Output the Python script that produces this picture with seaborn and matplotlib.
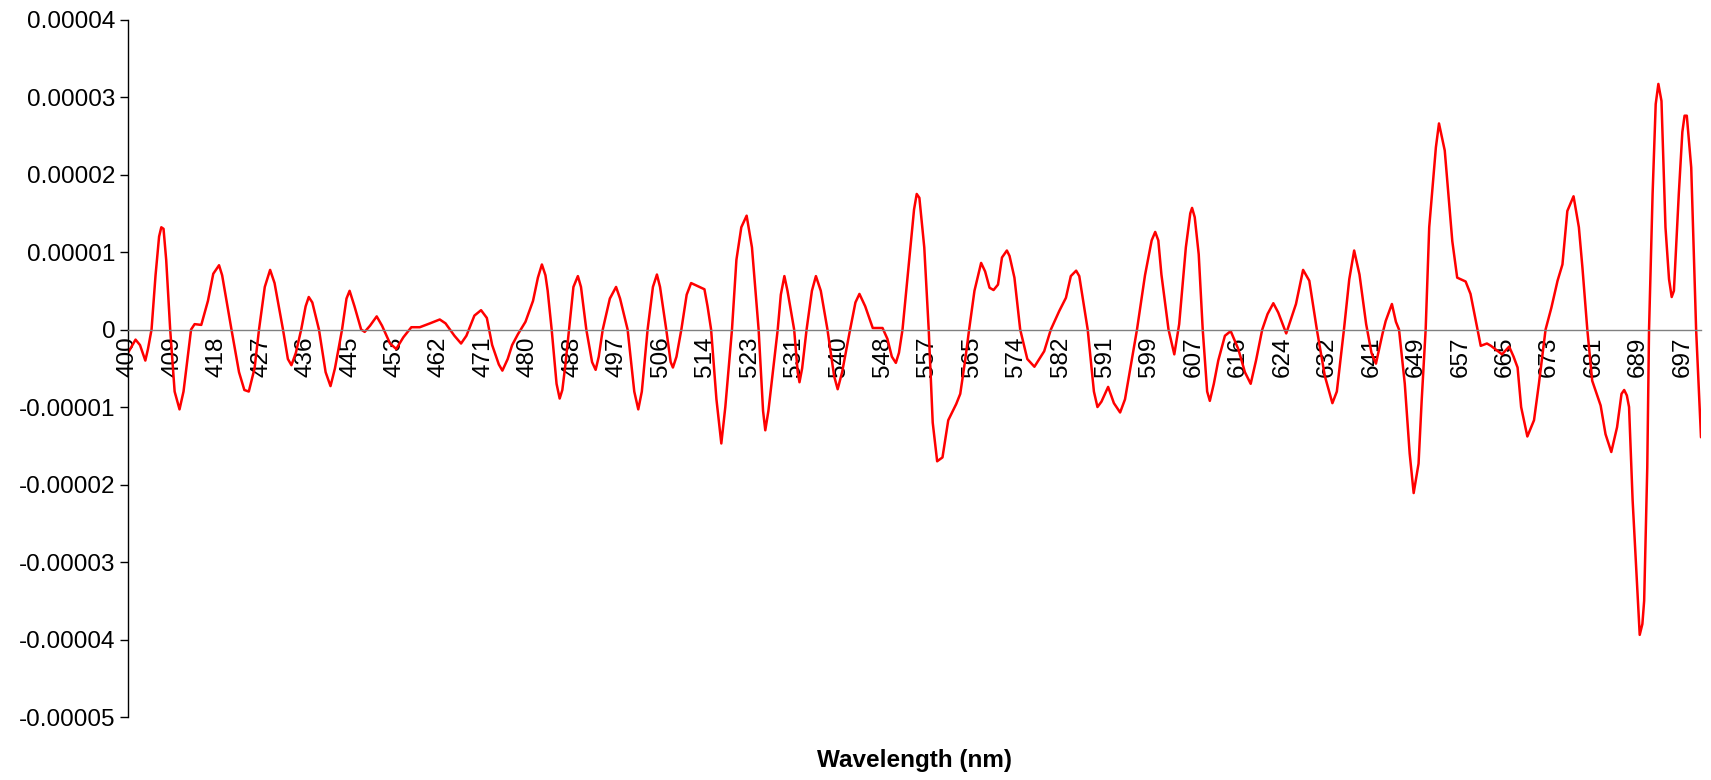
import numpy as np
import matplotlib
matplotlib.use("Agg")
import matplotlib.pyplot as plt
import seaborn as sns
from matplotlib.ticker import FuncFormatter

sns.set_style("white")
plt.rcParams["font.family"] = ["Liberation Sans", "DejaVu Sans"]

# category labels shown on the x axis (one label every 20 spectral points)
wavelength_labels = [400, 409, 418, 427, 436, 445, 453, 462, 471, 480, 488, 497,
                     506, 514, 523, 531, 540, 548, 557, 565, 574, 582, 591, 599,
                     607, 616, 624, 632, 641, 649, 657, 665, 673, 681, 689, 697]

# position along the category axis, in label steps
pos = [0.00, 0.17, 0.27, 0.39, 0.45, 0.53, 0.62, 0.70, 0.75, 0.80, 0.86, 0.95,
       1.05, 1.16, 1.25, 1.42, 1.50, 1.65, 1.80, 1.92, 2.05, 2.12, 2.33, 2.50,
       2.62, 2.72, 2.85, 2.95, 3.08, 3.20, 3.30, 3.49, 3.60, 3.68, 3.78, 3.90,
       4.00, 4.07, 4.15, 4.30, 4.45, 4.56, 4.66, 4.82, 4.92, 4.99, 5.10, 5.25,
       5.33, 5.45, 5.60, 5.72, 5.90, 6.04, 6.20, 6.38, 6.57, 6.80, 7.02, 7.15,
       7.35, 7.50, 7.62, 7.80, 7.95, 8.08, 8.20, 8.35, 8.43, 8.55, 8.65, 8.78,
       8.95, 9.12, 9.23, 9.32, 9.40, 9.45, 9.54, 9.65, 9.72, 9.78, 9.85, 9.93,
       10.03, 10.13, 10.20, 10.32, 10.45, 10.53, 10.60, 10.69, 10.85, 10.99, 11.08, 11.25,
       11.40, 11.49, 11.57, 11.70, 11.82, 11.91, 11.98, 12.12, 12.22, 12.27, 12.35, 12.46,
       12.58, 12.68, 12.87, 12.98, 13.05, 13.13, 13.25, 13.36, 13.45, 13.60, 13.70, 13.81,
       13.93, 14.05, 14.20, 14.30, 14.35, 14.42, 14.55, 14.63, 14.70, 14.78, 14.85, 15.00,
       15.08, 15.12, 15.18, 15.28, 15.40, 15.49, 15.60, 15.75, 15.90, 15.98, 16.08, 16.26,
       16.38, 16.47, 16.60, 16.77, 16.99, 17.10, 17.20, 17.29, 17.36, 17.44, 17.59, 17.70,
       17.76, 17.82, 17.93, 18.03, 18.12, 18.22, 18.34, 18.47, 18.65, 18.74, 18.85, 18.94,
       19.06, 19.21, 19.30, 19.40, 19.49, 19.59, 19.68, 19.79, 19.85, 19.96, 20.09, 20.25,
       20.41, 20.63, 20.78, 20.97, 21.12, 21.23, 21.35, 21.42, 21.61, 21.75, 21.83, 21.92,
       22.07, 22.20, 22.34, 22.45, 22.72, 22.90, 23.05, 23.13, 23.20, 23.27, 23.43, 23.56,
       23.67, 23.82, 23.92, 23.96, 24.02, 24.11, 24.20, 24.30, 24.36, 24.45, 24.55, 24.70,
       24.83, 25.00, 25.15, 25.28, 25.40, 25.54, 25.66, 25.79, 25.90, 26.08, 26.30, 26.46,
       26.60, 26.77, 26.95, 27.12, 27.22, 27.38, 27.50, 27.61, 27.73, 27.88, 28.00, 28.10,
       28.25, 28.32, 28.46, 28.55, 28.62, 28.75, 28.86, 28.95, 29.06, 29.13, 29.22, 29.30,
       29.45, 29.52, 29.65, 29.75, 29.82, 29.93, 30.12, 30.23, 30.35, 30.46, 30.60, 30.69,
       30.94, 31.10, 31.20, 31.29, 31.37, 31.51, 31.66, 31.77, 31.92, 32.05, 32.19, 32.30,
       32.41, 32.55, 32.67, 32.75, 32.86, 32.97, 33.16, 33.27, 33.40, 33.53, 33.63, 33.69,
       33.75, 33.80, 33.88, 33.96, 34.04, 34.10, 34.14, 34.21, 34.25, 34.33, 34.40, 34.46,
       34.53, 34.62, 34.70, 34.76, 34.81, 34.92, 35.00, 35.05, 35.10, 35.20, 35.31, 35.42]

# derivative value in units of 1e-5
deriv_e5 = [-0.30, -0.13, -0.20, -0.40, -0.25, 0.00, 0.70, 1.20, 1.32, 1.30, 0.90, 0.00,
            -0.80, -1.03, -0.80, 0.00, 0.07, 0.06, 0.37, 0.72, 0.83, 0.70, 0.00, -0.55,
            -0.78, -0.80, -0.50, 0.00, 0.55, 0.77, 0.60, 0.00, -0.38, -0.46, -0.30, 0.00,
            0.30, 0.42, 0.35, 0.00, -0.55, -0.73, -0.50, 0.00, 0.40, 0.50, 0.30, 0.00,
            -0.03, 0.05, 0.17, 0.05, -0.18, -0.25, -0.10, 0.03, 0.03, 0.08, 0.13, 0.08,
            -0.08, -0.18, -0.08, 0.18, 0.25, 0.15, -0.20, -0.45, -0.53, -0.38, -0.20, -0.06,
            0.10, 0.37, 0.67, 0.84, 0.70, 0.50, 0.00, -0.70, -0.89, -0.78, -0.45, 0.00,
            0.55, 0.69, 0.55, 0.00, -0.42, -0.52, -0.35, 0.00, 0.40, 0.55, 0.40, 0.00,
            -0.80, -1.03, -0.80, 0.00, 0.55, 0.71, 0.55, 0.00, -0.42, -0.49, -0.35, 0.00,
            0.45, 0.60, 0.55, 0.52, 0.30, 0.00, -0.90, -1.47, -1.00, 0.00, 0.90, 1.32,
            1.47, 1.06, 0.00, -1.05, -1.30, -1.05, -0.40, 0.00, 0.45, 0.69, 0.50, 0.00,
            -0.55, -0.68, -0.50, 0.00, 0.50, 0.69, 0.50, 0.00, -0.60, -0.77, -0.55, 0.00,
            0.35, 0.46, 0.30, 0.02, 0.02, -0.12, -0.35, -0.43, -0.30, 0.00, 0.89, 1.55,
            1.75, 1.70, 1.06, 0.00, -1.20, -1.70, -1.65, -1.17, -0.96, -0.83, -0.40, 0.00,
            0.50, 0.86, 0.75, 0.54, 0.51, 0.58, 0.93, 1.02, 0.95, 0.67, 0.00, -0.38,
            -0.48, -0.28, 0.00, 0.24, 0.41, 0.69, 0.76, 0.69, 0.00, -0.80, -1.00, -0.93,
            -0.74, -0.95, -1.07, -0.90, 0.00, 0.70, 1.15, 1.26, 1.15, 0.71, 0.00, -0.32,
            0.07, 1.06, 1.50, 1.57, 1.45, 0.97, 0.00, -0.80, -0.92, -0.70, -0.40, -0.08,
            -0.02, -0.25, -0.55, -0.70, -0.40, 0.00, 0.20, 0.34, 0.22, -0.05, 0.33, 0.77,
            0.63, 0.00, -0.60, -0.95, -0.80, 0.00, 0.65, 1.02, 0.71, 0.07, -0.30, -0.44,
            -0.05, 0.11, 0.33, 0.10, 0.00, -0.70, -1.60, -2.11, -1.73, -0.92, 0.00, 1.32,
            2.35, 2.66, 2.31, 1.62, 1.14, 0.67, 0.62, 0.46, 0.11, -0.21, -0.18, -0.21,
            -0.32, -0.22, -0.35, -0.49, -1.00, -1.38, -1.17, -0.70, 0.00, 0.28, 0.63, 0.84,
            1.53, 1.72, 1.32, 0.80, 0.00, -0.66, -0.98, -1.35, -1.58, -1.26, -0.83, -0.78,
            -0.85, -1.00, -2.20, -3.07, -3.94, -3.80, -3.50, -1.78, 0.00, 1.75, 2.91, 3.17,
            2.95, 1.32, 0.65, 0.42, 0.50, 1.75, 2.55, 2.76, 2.76, 2.09, 0.00, -1.39]

y_ticks_e5 = [-5, -4, -3, -2, -1, 0, 1, 2, 3, 4]

values = np.array(deriv_e5) * 1e-5

W, H = 1711, 780
fig = plt.figure(figsize=(W / 100, H / 100), dpi=100)
ax = fig.add_axes([128 / W, 1 - 717 / H, (1701 - 128) / W, (717 - 19.6) / H])

sns.lineplot(x=pos, y=values, color="#FF0000", linewidth=1.8, ax=ax)

# spines first: moving a spine resets the axis ticks
for side in ["top", "right"]:
    ax.spines[side].set_visible(False)
ax.spines["bottom"].set_position(("data", 0))
ax.spines["bottom"].set_color("#808080")
ax.spines["bottom"].set_linewidth(1)
ax.spines["left"].set_color("black")
ax.spines["left"].set_linewidth(1)

ax.set_xlim(0, pos[-1])
ax.set_ylim(-5e-5, 4e-5)
ax.set_yticks(np.array(y_ticks_e5) * 1e-5)
ax.yaxis.set_major_formatter(FuncFormatter(lambda v, _: "0" if abs(v) < 1e-12 else f"{v:.5f}"))
ax.set_xticks(range(len(wavelength_labels)))
ax.set_xticklabels([str(w) for w in wavelength_labels])

ax.tick_params(axis="x", length=0, pad=5, labelsize=17.5, labelcolor="black",
               labelrotation=90)
ax.tick_params(axis="y", left=True, length=6, width=1, direction="out", pad=3,
               labelsize=17.5, labelcolor="black", color="black")
ax.set_xlabel("")
ax.set_ylabel("")

fig.text((128 + 1701) / 2 / W, 1 - 760 / H, "Wavelength (nm)", fontsize=17.5,
         fontweight="bold", color="black", ha="center", va="center")

fig.savefig("out.png", dpi=100)
